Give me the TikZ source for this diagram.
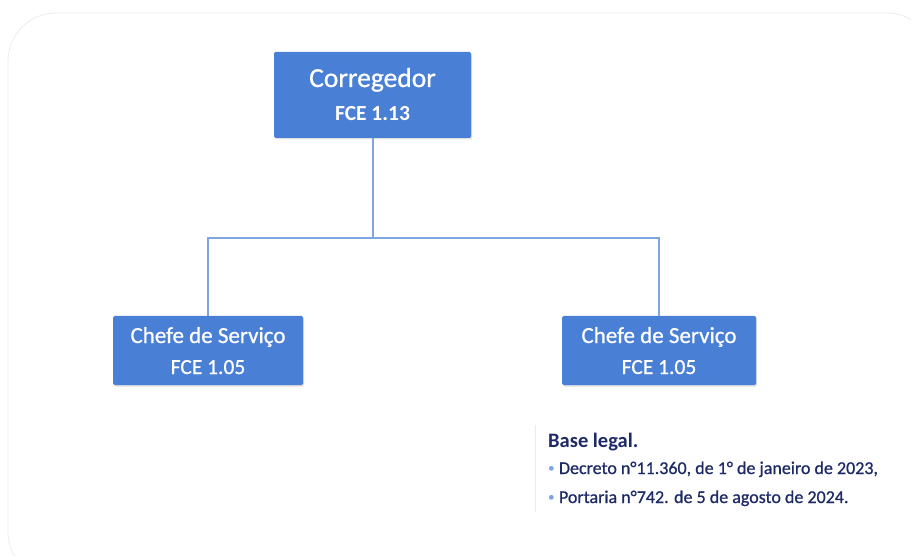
\documentclass[tikz,border=0pt]{standalone}
\usepackage{fontspec}
\setmainfont{Carlito}
\newfontfamily\semib[FakeBold=0.8]{Carlito}
\usetikzlibrary{shadows}
\definecolor{boxblue}{HTML}{4A7FD6}
\definecolor{linkblue}{HTML}{7FA6E2}
\definecolor{navy}{HTML}{1E2A66}
\tikzset{
  orgbox/.style={draw=none, fill=boxblue, rounded corners=1.5pt,
    drop shadow={shadow xshift=1pt, shadow yshift=-1.5pt, opacity=0.25}},
  boxtext/.style={text=white, anchor=base, inner sep=0pt},
  link/.style={draw=linkblue, line width=1.8pt},
  legal/.style={anchor=base west, text=navy, inner sep=0pt},
}
\newcommand{\smallbullet}{\raisebox{0.25ex}{\textcolor{linkblue}{\scalebox{0.7}{\textbullet}}}\hspace{0.25em}}
\begin{document}
\begin{tikzpicture}[x=1pt,y=-1pt]
\useasboundingbox (0,0) rectangle (911,556);
\draw[black!8, line width=0.8pt, rounded corners=48pt] (8,13) rectangle (935,580);
\node[orgbox, minimum width=197pt, minimum height=86pt] (top) at (372.5,95) {};
\node[boxtext, font=\semib\fontsize{27.5}{30}\selectfont] (topa) at (372.5,87) {Corregedor};
\node[boxtext, font=\fontsize{21.5}{24}\selectfont\bfseries] (topb) at (372.5,121) {FCE 1.13};
\node[orgbox, minimum width=190pt, minimum height=69pt] (left) at (208,350.5) {};
\node[boxtext, font=\semib\fontsize{23}{26}\selectfont] (lefta) at (208,343) {Chefe de Serviço};
\node[boxtext, font=\semib\fontsize{21.5}{24}\selectfont] (leftb) at (208,374) {FCE 1.05};
\node[orgbox, minimum width=194pt, minimum height=69pt] (right) at (659,350.5) {};
\node[boxtext, font=\semib\fontsize{23}{26}\selectfont] (righta) at (659,343) {Chefe de Serviço};
\node[boxtext, font=\semib\fontsize{21.5}{24}\selectfont] (rightb) at (659,374) {FCE 1.05};
\coordinate (j) at (373,238);
\draw[link] (top.south -| j) -- (j);
\draw[link] (left.north) |- (j) -| (right.north);
\draw[black!8, line width=0.8pt] (535,425) -- (535,512);
\node[legal, font=\fontsize{20.5}{24}\selectfont\bfseries] (bl) at (548,447) {Base legal.};
\node[legal, font=\semib\fontsize{18}{21}\selectfont] (b1) at (548,474)
  {\smallbullet Decreto n°11.360, de 1° de janeiro de 2023,};
\node[legal, font=\semib\fontsize{18}{21}\selectfont] (b2) at (548,503)
  {\smallbullet Portaria n°742. de 5 de agosto de 2024.};
\end{tikzpicture}
\end{document}
